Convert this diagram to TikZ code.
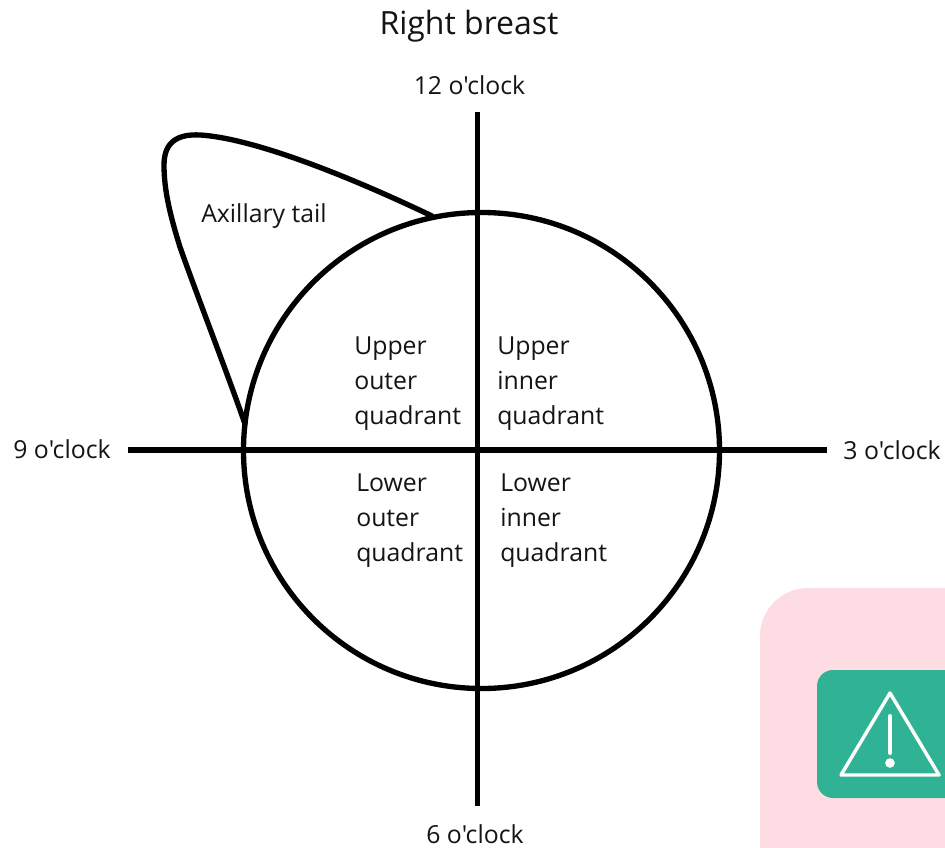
\documentclass[tikz,border=0pt]{standalone}
\usepackage{fontspec}
\setmainfont{Open Sans}[Ligatures=TeXOff]
\definecolor{pinkbg}{HTML}{FDDDE3}
\definecolor{greenbox}{HTML}{30B394}
\tikzset{
  ink/.style={draw=black,line width=4pt},
  lab/.style={font=\fontsize{18.6}{26.2}\selectfont,text=black!92,inner sep=0pt},
  warn/.style={draw=white,line width=2.6pt,line join=round,line cap=round},
}
\begin{document}
\begin{tikzpicture}[x=0.75pt,y=-0.75pt]
\useasboundingbox (0,0) rectangle (945,848);
\fill[white] (0,0) rectangle (945,848);
% warning card
\begin{scope}
\clip (0,0) rectangle (945,848);
\fill[pinkbg,rounded corners=36pt] (760,588) rectangle (1100,1000);
\fill[greenbox,rounded corners=12pt] (817,670) rectangle (1100,798);
\draw[warn] (890,693) -- (841,775) -- (939,775) -- cycle;
\draw[warn,line width=3pt] (890,716) -- (890,753);
\fill[white] (890,763) circle (4.8);
\end{scope}
% axes
\coordinate (top) at (477.5,112);
\coordinate (bottom) at (477.5,806);
\coordinate (left) at (128,450);
\coordinate (right) at (827,450);
\coordinate (tailA) at (245,424);
\coordinate (tailB) at (432,216);
\draw[ink] (top) -- (bottom);
\draw[ink] (left) -- (right);
\node[ink,circle,minimum size=476*0.75pt,inner sep=0pt] (breast) at (481.5,450.5) {};
\draw[ink,line cap=round] (tailA) .. controls (228,375) and (195,290) .. (180,247)
  .. controls (170,215) and (164,190) .. (164,165)
  .. controls (164,140) and (180,134) .. (200,135)
  .. controls (250,138) and (340,172) .. (tailB);
% labels
\node[lab,font=\fontsize{24}{28}\selectfont] (title) at (469,26) {Right breast};
\node[lab] (n12) at (469.5,85) {12 o'clock};
\node[lab] (n9) at (62,449) {9 o'clock};
\node[lab] (n3) at (892,450) {3 o'clock};
\node[lab] (n6) at (475,834) {6 o'clock};
\node[lab] (tail) at (264,216) {Axillary tail};
\node[lab,anchor=north west,align=left] (uo) at (354,337) {Upper\\outer\\quadrant};
\node[lab,anchor=north west,align=left] (ui) at (497,337) {Upper\\inner\\quadrant};
\node[lab,anchor=north west,align=left] (lo) at (356,474) {Lower\\outer\\quadrant};
\node[lab,anchor=north west,align=left] (li) at (500,474) {Lower\\inner\\quadrant};
\end{tikzpicture}
\end{document}
